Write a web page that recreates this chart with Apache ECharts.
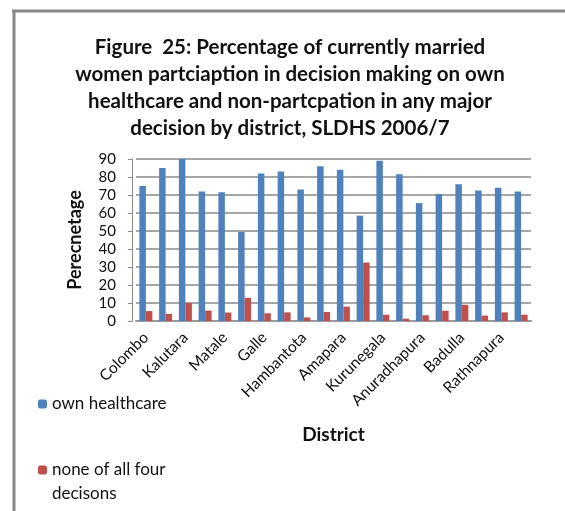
<!DOCTYPE html>
<html>
<head>
<meta charset="utf-8">
<script src="https://cdn.jsdelivr.net/npm/echarts@6/dist/echarts.min.js"></script>
<style>
  html, body { margin: 0; padding: 0; background: #fff; }
  #chart { width: 565px; height: 511px; }
</style>
</head>
<body>
<div id="chart"></div>
<script>
const districts = ['Colombo','Gampaha','Kalutara','Kandy','Matale','Nuwara Eliya','Galle','Matara','Hambantota','Batticaloa','Amapara','Trincomalee','Kurunegala','Puttalam','Anuradhapura','Polonnaruwa','Badulla','Moneragala','Rathnapura','Kegalle'];
const ownHealthcare = [75, 85, 90, 72, 71.5, 49.5, 82, 83, 73, 86, 84, 58.5, 89, 81.5, 65.5, 70.5, 76, 72.5, 74, 72];
const noneOfFour = [5.5, 4, 10, 5.8, 4.7, 12.9, 4.3, 4.8, 2, 5, 8, 32.5, 3.5, 1.3, 3.2, 5.7, 9, 3, 4.8, 3.5];
const yTicks = { min: 0, max: 90, interval: 10 };
const seriesNames = ['own healthcare', 'none of all four decisons'];
const titleText = 'Figure  25: Percentage of currently married\nwomen partciaption in decision making on own\nhealthcare and non-partcpation in any major\ndecision by district, SLDHS 2006/7';

const FONT = 'Lato';
const chart = echarts.init(document.getElementById('chart'), null, { renderer: 'canvas' });
chart.setOption({
  animation: false,
  backgroundColor: '#ffffff',
  textStyle: { fontFamily: FONT },
  title: {
    text: titleText,
    left: 290,
    top: 34,
    textAlign: 'center',
    padding: 0,
    textStyle: { fontFamily: FONT, fontWeight: 'bold', fontSize: 20.5, lineHeight: 27, color: '#111' }
  },
  graphic: [
    { type: 'line', shape: { x1: 12, y1: 11, x2: 565, y2: 11 }, style: { stroke: '#888', lineWidth: 3 } },
    { type: 'line', shape: { x1: 14, y1: 10, x2: 14, y2: 511 }, style: { stroke: '#888', lineWidth: 3 } }
  ],
  legend: [
    {
      data: [seriesNames[0]],
      orient: 'vertical',
      left: 38, top: 392,
      padding: 0,
      itemWidth: 9, itemHeight: 9,
      textStyle: { fontFamily: FONT, fontSize: 17, color: '#111', lineHeight: 24 }
    },
    {
      data: [seriesNames[1]],
      orient: 'vertical',
      left: 38, top: 434,
      padding: 0,
      itemWidth: 9, itemHeight: 9,
      formatter: n => '{s| }\n' + n.replace('four ', 'four\n'),
      textStyle: {
        fontFamily: FONT, fontSize: 17, color: '#111', lineHeight: 24,
        rich: { s: { fontSize: 17, lineHeight: 24 } }
      }
    }
  ],
  grid: { left: 136, right: 34, top: 159, bottom: 190, containLabel: false },
  xAxis: {
    type: 'category',
    data: districts,
    name: 'District',
    nameLocation: 'middle',
    nameGap: 104,
    nameTextStyle: { fontFamily: FONT, fontWeight: 'bold', fontSize: 19, color: '#111' },
    axisLine: { lineStyle: { color: '#9a9a9a', width: 2 } },
    axisTick: { show: false },
    axisLabel: { interval: 1, rotate: 45, margin: 14, fontFamily: FONT, fontSize: 15.5, color: '#111' }
  },
  yAxis: {
    type: 'value',
    min: yTicks.min, max: yTicks.max, interval: yTicks.interval,
    offset: 4,
    name: 'Perecnetage',
    nameLocation: 'middle',
    nameGap: 48,
    nameTextStyle: { fontFamily: FONT, fontWeight: 'bold', fontSize: 18, color: '#111' },
    axisLine: { show: true, lineStyle: { color: '#8a8a8a', width: 1 } },
    axisTick: { show: true, length: 4, lineStyle: { color: '#8a8a8a' } },
    axisLabel: { margin: 16, fontFamily: FONT, fontSize: 15, color: '#111' },
    splitLine: { show: true, lineStyle: { color: '#a6a6a6', width: 2 } }
  },
  series: [
    {
      name: seriesNames[0], type: 'bar', data: ownHealthcare,
      barWidth: 6.5, barGap: '0%',
      itemStyle: { color: '#4F81BD' }
    },
    {
      name: seriesNames[1], type: 'bar', data: noneOfFour,
      barWidth: 6.5,
      itemStyle: { color: '#C0504D' }
    }
  ]
});
</script>
</body>
</html>
